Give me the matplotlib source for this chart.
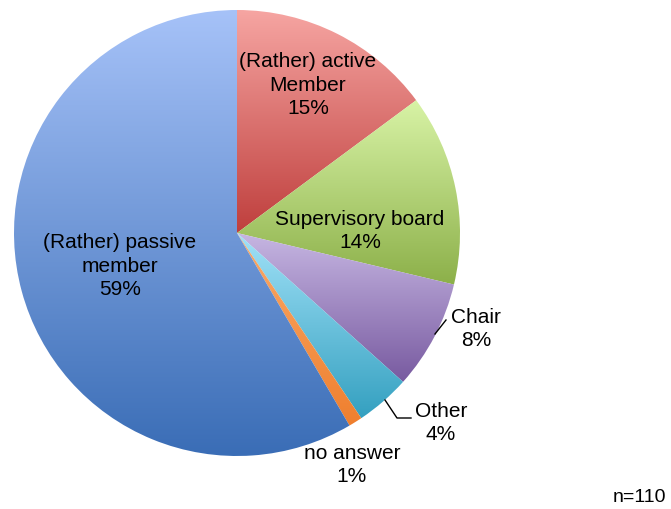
import numpy as np
import matplotlib.pyplot as plt
from matplotlib.colors import to_rgb

plt.rcParams['font.family'] = ['Liberation Sans', 'DejaVu Sans']

# Role of respondents in their organisation (percent, n=110)
roles = ['(Rather) active\nMember', 'Supervisory board', 'Chair', 'Other',
         'no answer', '(Rather) passive\nmember']
shares = [15, 14, 8, 4, 1, 59]

# top / bottom gradient colours for each wedge
top_colors = ['#f6a5a2', '#d8f3a6', '#c6b6e2', '#a2e2f8', '#f9aa6a', '#a6c2f8']
bottom_colors = ['#bf3f3d', '#8cb049', '#785aa0', '#34a0c0', '#ef7f2e', '#3a6db6']

fig = plt.figure(figsize=(6.71, 5.09), dpi=100)
ax = fig.add_axes([0, 0, 1, 1])

H = 509
cx, cy, r = 237, H - 233, 223

wedges, _ = ax.pie(shares, startangle=90, counterclock=False,
                   center=(cx, cy), radius=r, normalize=True,
                   wedgeprops=dict(linewidth=0))

for w, c_top, c_bot in zip(wedges, top_colors, bottom_colors):
    w.set_facecolor('none')
    ext = w.get_path().get_extents()
    t = np.linspace(0, 1, 256)[:, None, None]
    grad = (1 - t) * np.array(to_rgb(c_top)) + t * np.array(to_rgb(c_bot))
    im = ax.imshow(grad, extent=(ext.x0, ext.x1, ext.y0, ext.y1),
                   origin='upper', aspect='auto', interpolation='bilinear',
                   zorder=1)
    im.set_clip_path(w)

ax.set_xlim(0, 671)
ax.set_ylim(0, H)
ax.set_axis_off()

fs = 15
ls = 1.28
ax.text(308, H - 85, f'{roles[0]}\n{shares[0]}%', ha='center', va='center',
        fontsize=fs, linespacing=ls, zorder=3)
ax.text(360, H - 231, f'{roles[1]}\n{shares[1]}%', ha='center', va='center',
        fontsize=fs, linespacing=ls, zorder=3)
ax.text(476, H - 329, f'{roles[2]}\n{shares[2]}%', ha='center', va='center',
        fontsize=fs, linespacing=ls, zorder=3)
ax.text(441, H - 423, f'{roles[3]}\n{shares[3]}%', ha='center', va='center',
        fontsize=fs, linespacing=ls, zorder=3)
ax.text(352, H - 465, f'{roles[4]}\n{shares[4]}%', ha='center', va='center',
        fontsize=fs, linespacing=ls, zorder=3)
ax.text(120, H - 266, f'{roles[5]}\n{shares[5]}%', ha='center', va='center',
        fontsize=fs, linespacing=ls, zorder=3)

# leader lines for the small wedges
ax.plot([435, 446], [H - 334, H - 320], color='black', lw=1, zorder=3)
ax.plot([385, 397, 411], [H - 400, H - 418, H - 418], color='black', lw=1,
        zorder=3)

ax.text(639, H - 497, 'n=110', ha='center', va='center', fontsize=14)

fig.savefig('out.png', dpi=100)
